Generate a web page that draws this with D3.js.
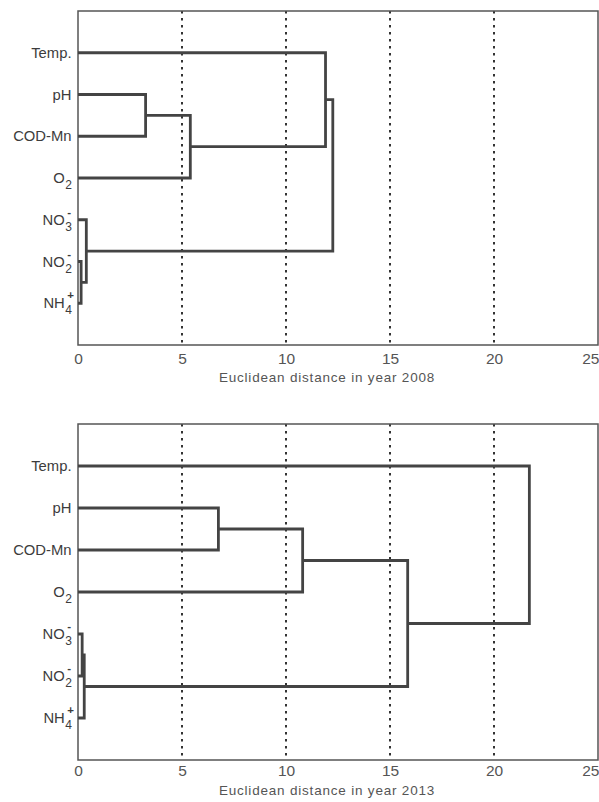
<!DOCTYPE html>
<html>
<head>
<meta charset="utf-8">
<script src="https://cdn.jsdelivr.net/npm/d3@7"></script>
<style>
  body { margin: 0; background: #fff; }
  svg { display: block; font-family: "Liberation Sans", Arial, sans-serif; }
</style>
</head>
<body>
<svg id="chart" width="599" height="802"></svg>
<script>
// leaves, top to bottom
const leaves = ["Temp.", "pH", "COD-Mn", "O2", "NO3-", "NO2-", "NH4+"];
const labelParts = [
  { base: "Temp." },
  { base: "pH" },
  { base: "COD-Mn" },
  { base: "O", sub: "2" },
  { base: "NO", sub: "3", sup: "-" },
  { base: "NO", sub: "2", sup: "-" },
  { base: "NH", sub: "4", sup: "+" }
];
const distTicks = [0, 5, 10, 15, 20, 25];
const gridTicks = [5, 10, 15, 20];

// merges: [childA, childB, distance]; leaves are 0..6, merge k is node 7+k
const merges2008 = [
  [1, 2, 3.25],
  [7, 3, 5.4],
  [0, 8, 11.9],
  [5, 6, 0.15],
  [4, 10, 0.4],
  [9, 11, 12.25]
];
const merges2013 = [
  [1, 2, 6.75],
  [7, 3, 10.8],
  [4, 5, 0.2],
  [9, 6, 0.3],
  [8, 10, 15.85],
  [0, 11, 21.7]
];

const svg = d3.select("#chart");
const x = d3.scaleLinear().domain([0, 25]).range([78, 598]);

function drawPanel(merges, title, top, bottom, tickBase, titleBase) {
  const g = svg.append("g");
  const y = d3.scalePoint().domain(leaves).range([top, bottom]).padding(1);

  // grid
  g.selectAll("line.grid")
    .data(gridTicks)
    .join("line")
    .attr("x1", d => x(d)).attr("x2", d => x(d))
    .attr("y1", top).attr("y2", bottom)
    .attr("stroke", "#333")
    .attr("stroke-width", 2)
    .attr("stroke-dasharray", "2.5 4.5");

  // frame
  g.append("rect")
    .attr("x", x(0)).attr("y", top)
    .attr("width", x(25) - x(0)).attr("height", bottom - top)
    .attr("fill", "none")
    .attr("stroke", "#555")
    .attr("stroke-width", 1.5);

  // node positions
  const nodes = leaves.map(l => ({ h: 0, y: y(l) }));
  merges.forEach(([a, b, h]) => {
    nodes.push({ h: h, y: (nodes[a].y + nodes[b].y) / 2 });
  });

  g.selectAll("path.link")
    .data(merges)
    .join("path")
    .attr("fill", "none")
    .attr("stroke", "#444")
    .attr("stroke-width", 2.8)
    .attr("d", ([a, b, h]) => {
      const A = nodes[a], B = nodes[b];
      return `M${x(A.h)},${A.y}H${x(h)}V${B.y}H${x(B.h)}`;
    });

  // leaf labels
  const lab = g.selectAll("g.lab")
    .data(labelParts)
    .join("g")
    .attr("transform", (d, i) => `translate(72,${y(leaves[i])})`)
    .attr("fill", "#3c3c3c");

  lab.each(function(d) {
    const el = d3.select(this);
    let subW = 0;
    if (d.sub) {
      const s = el.append("text")
        .attr("font-size", 12)
        .attr("y", 11)
        .text(d.sub);
      subW = s.node().getComputedTextLength();
      s.attr("x", -subW);
      if (d.sup) {
        el.append("text")
          .attr("font-size", 11.5)
          .attr("font-weight", "bold")
          .attr("x", -subW + 2)
          .attr("y", -4)
          .text(d.sup);
      }
    }
    el.append("text")
      .attr("font-size", 14.8)
      .attr("x", -subW - 0.5)
      .attr("y", 5)
      .attr("text-anchor", "end")
      .text(d.base);
  });

  // axis tick labels
  const axis = g.append("g")
    .attr("transform", `translate(0,${bottom})`)
    .call(d3.axisBottom(x).tickValues(distTicks).tickSize(0).tickPadding(0));
  axis.select(".domain").remove();
  axis.selectAll("text")
    .attr("y", tickBase - bottom)
    .attr("dy", 0)
    .attr("font-size", 15.5)
    .attr("font-family", "Liberation Sans, Arial, sans-serif")
    .attr("fill", "#555")
    .attr("text-anchor", d => d === 25 ? "end" : "middle")
    .attr("dx", d => d === 25 ? 1 : 0);

  g.append("text")
    .attr("x", 327)
    .attr("y", titleBase)
    .attr("text-anchor", "middle")
    .attr("font-size", 13.5)
    .attr("letter-spacing", 0.8)
    .attr("fill", "#555")
    .text(title);
}

drawPanel(merges2008, "Euclidean distance in year 2008", 11, 345, 364, 382);
drawPanel(merges2013, "Euclidean distance in year 2013", 424, 760, 776, 795);
</script>
</body>
</html>
